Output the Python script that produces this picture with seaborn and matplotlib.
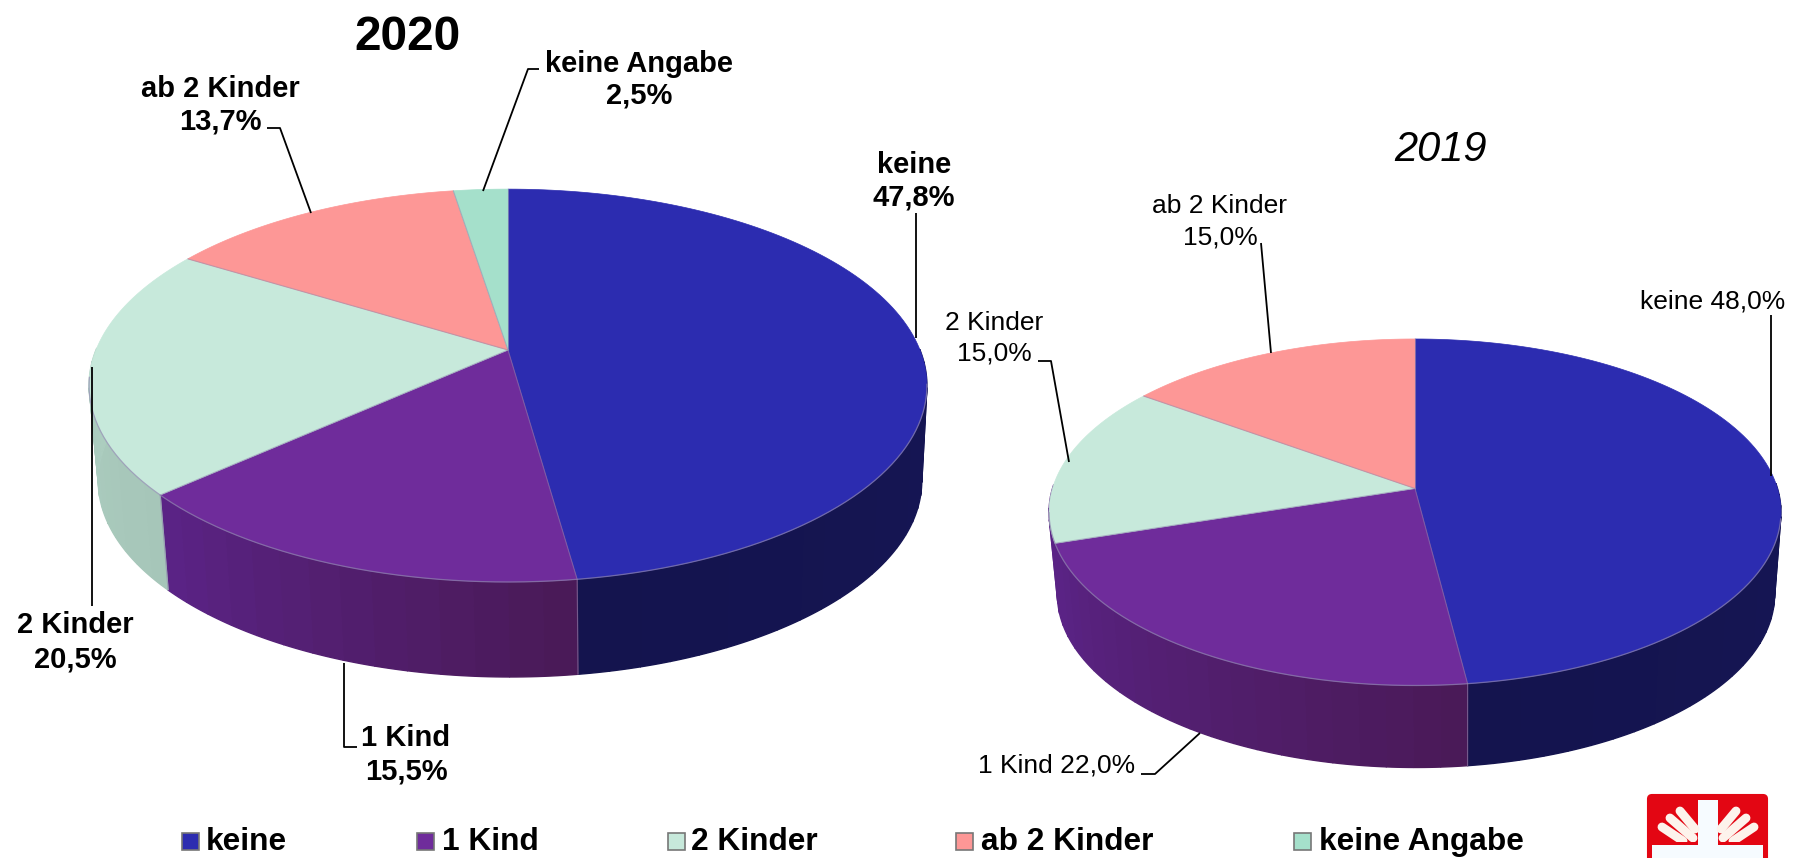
import numpy as np
import matplotlib
matplotlib.use("Agg")
import matplotlib.pyplot as plt
from matplotlib.patches import Rectangle, FancyBboxPatch
from matplotlib.colors import to_rgb
import seaborn as sns

categories = ["keine", "1 Kind", "2 Kinder", "ab 2 Kinder", "keine Angabe"]
values_2020 = [47.8, 15.5, 20.5, 13.7, 2.5]
values_2019 = [48.0, 22.0, 15.0, 15.0, 0.0]

top_colors = sns.color_palette(["#2c2cb0", "#6f2c9b", "#c7e9db", "#fd9796", "#a5e0cb"])
side_start = ["#17175c", "#4a1a58", "#a6c6b9", "#c07070", "#80b0a0"]
side_end = ["#14144e", "#5a2385", "#b0d2c4", "#c07070", "#80b0a0"]

sns.set_theme(style="white")
plt.rcParams["font.family"] = ["Liberation Sans", "DejaVu Sans"]

fig = plt.figure(figsize=(17.98, 8.58), dpi=100, facecolor="white")
ax = fig.add_axes([0, 0, 1, 1])
ax.set_xlim(0, 1798)
ax.set_ylim(858, 0)
ax.axis("off")


def project(theta, g, lower=False):
    x, y = np.sin(theta), np.cos(theta)
    w = 1 + g["k"] * y
    X, Y = g["B"] * x / w, -g["A"] * y / w
    if lower:
        return g["cx"] + g["off"] + g["s"] * X, g["cy"] + Y + g["d"]
    return g["cx"] + X, g["cy"] + Y


def pie3d(values, g):
    bounds = np.deg2rad(np.concatenate([[0], np.cumsum(values)]) * 3.6)
    rim = "#8f86ae"
    # side walls; a wall listed in merge takes over the end colour of the wall before it
    for i, v in enumerate(values):
        if v <= 0:
            continue
        a0, a1 = bounds[i], bounds[i + 1]
        ths = np.linspace(a0, a1, max(int(v), 4))
        merged = i in g["merge"]
        c0 = np.array(to_rgb(side_end[i - 1] if merged else side_start[i]))
        c1 = np.array(to_rgb(side_end[i - 1] if merged else side_end[i]))
        for j in range(len(ths) - 1):
            t = np.linspace(ths[j], ths[j + 1], 6)
            if np.cos(t.mean()) > 0.0:
                continue
            xt, yt = project(t, g)
            xb, yb = project(t, g, lower=True)
            c = c0 + (c1 - c0) * j / max(len(ths) - 2, 1)
            ax.fill(np.r_[xt, xb[::-1]], np.r_[yt, yb[::-1]], color=c, lw=1.0, zorder=2)
    # top faces
    for i, v in enumerate(values):
        if v <= 0:
            continue
        t = np.linspace(bounds[i], bounds[i + 1], 120)
        x, y = project(t, g)
        ax.fill(np.r_[g["cx"], x], np.r_[g["cy"], y], color=top_colors[i], lw=0.5, zorder=3)
    # rim and slice edges
    t = np.linspace(np.deg2rad(100), np.deg2rad(262), 200)
    x, y = project(t, g)
    ax.plot(x, y, color=rim, lw=0.9, alpha=0.7, zorder=4)
    for i, a in enumerate(bounds[:-1]):
        if values[i] <= 0:
            continue
        xe, ye = project(np.array([a]), g)
        ax.plot([g["cx"], xe[0]], [g["cy"], ye[0]], color=rim, lw=0.8, alpha=0.5, zorder=4)
        if np.cos(a) < -0.3 and i not in g["merge"]:
            xb, yb = project(np.array([a]), g, lower=True)
            ax.plot([xe[0], xb[0]], [ye[0], yb[0]], color=rim, lw=0.8, alpha=0.6, zorder=4)


geom_2020 = dict(cx=508, cy=350, k=0.181, A=190, B=412, s=0.983, off=2, d=95, merge=())
geom_2019 = dict(cx=1415, cy=488.5, k=0.137, A=170, B=362.5, s=0.98, off=1, d=82, merge=(2,))
pie3d(values_2020, geom_2020)
pie3d(values_2019, geom_2019)

# leader lines
leaders = [
    [(483, 191), (528, 69), (539, 69)],
    [(311, 213), (280, 128), (267, 128)],
    [(916, 338), (916, 213)],
    [(91.5, 367), (91.5, 606)],
    [(344, 663), (344, 747), (357, 747)],
    [(1771, 476), (1771, 315)],
    [(1271, 353), (1261, 243)],
    [(1069, 462), (1051, 361), (1038, 361)],
    [(1200, 733), (1155, 774), (1141, 774)],
]
for pts in leaders:
    xs, ys = zip(*pts)
    ax.plot(xs, ys, color="black", lw=1.3, zorder=5, solid_capstyle="butt")

BOLD = 21
REG = 19


def label(x, y, s, size, weight="normal", style="normal", ha="center"):
    ax.text(x, y, s, fontsize=size, fontweight=weight, fontstyle=style,
            ha=ha, va="center", color="black", zorder=6)


label(408, 38, "2020", 34.5, "bold")
label(1440, 150, "2019", 30, style="italic")

label(639, 64, "keine Angabe", BOLD, "bold")
label(639, 96, "2,5%", BOLD, "bold")
label(220, 89, "ab 2 Kinder", BOLD, "bold")
label(220, 121, "13,7%", BOLD, "bold")
label(914, 165, "keine", BOLD, "bold")
label(914, 198, "47,8%", BOLD, "bold")
label(75, 625, "2 Kinder", BOLD, "bold")
label(75, 659, "20,5%", BOLD, "bold")
label(406, 738, "1 Kind", BOLD, "bold")
label(406, 771, "15,5%", BOLD, "bold")

label(1713, 301, "keine 48,0%", REG)
label(1220, 206, "ab 2 Kinder", REG)
label(1220, 237, "15,0%", REG)
label(994, 323, "2 Kinder", REG)
label(994, 354, "15,0%", REG)
label(1057, 766, "1 Kind 22,0%", REG)

# legend
leg_sq = [182, 417, 668, 956, 1294]
leg_tx = [206, 442, 691, 981, 1319]
for i, name in enumerate(categories):
    ax.add_patch(Rectangle((leg_sq[i], 833), 17, 16.5, facecolor=top_colors[i],
                           edgecolor="#777777", lw=1.2, zorder=5))
    label(leg_tx[i], 842, name, 22.8, "bold", ha="left")

# logo
red = "#e30613"
cream = "#fdf3ec"
ax.add_patch(FancyBboxPatch((1648, 795), 119, 75, boxstyle="round,pad=0,rounding_size=4",
                            facecolor=red, edgecolor=red, lw=1.5, zorder=5, clip_on=True))
ax.add_patch(Rectangle((1652, 844), 111, 15, facecolor="#f6fbff", edgecolor="none", zorder=6))
ax.add_patch(Rectangle((1698, 800), 20, 46, facecolor="#f6fbff", edgecolor="none", zorder=6))
strips = [((1662, 827), (1683, 841)), ((1670, 818), (1693, 838)), ((1680, 811), (1695, 829))]
for (x0, y0), (x1, y1) in strips:
    for sx0, sx1 in [(x0, x1), (3416 - x0, 3416 - x1)]:
        ax.plot([sx0, sx1], [y0, y1], color=cream, lw=6.4, solid_capstyle="round", zorder=7)
ax.add_patch(Rectangle((1652, 842), 111, 3, facecolor=red, edgecolor="none", zorder=8))
ax.add_patch(Rectangle((1698, 840), 20, 6, facecolor="#f6fbff", edgecolor="none", zorder=8))

fig.savefig("out.png", dpi=100, facecolor="white")
